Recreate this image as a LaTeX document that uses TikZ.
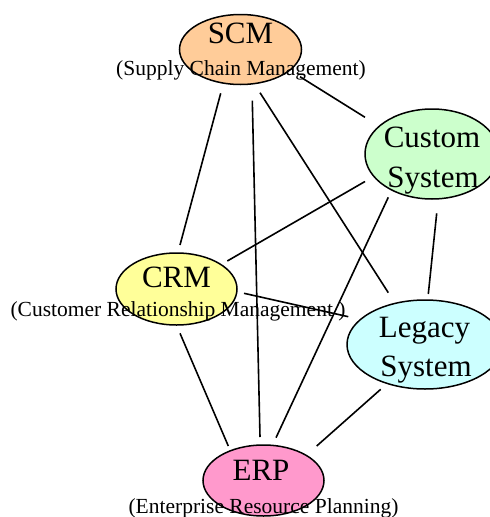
\documentclass[tikz,border=0pt]{standalone}
\usepackage{fontspec}
\setmainfont{Liberation Serif}
\usetikzlibrary{shapes.geometric,calc}
\definecolor{scmfill}{HTML}{FFCC99}
\definecolor{customfill}{HTML}{CCFFCC}
\definecolor{crmfill}{HTML}{FFFF99}
\definecolor{legacyfill}{HTML}{CCFFFF}
\definecolor{erpfill}{HTML}{FF99CC}
\tikzset{
  sysnode/.style={ellipse, draw=black, line width=1.5pt, inner sep=0pt},
  mainlbl/.style={anchor=base, inner sep=0pt, font=\fontsize{31}{40}\selectfont},
  sublbl/.style={anchor=base, inner sep=0pt, font=\fontsize{21.5}{26}\selectfont},
  edge/.style={draw=black, line width=1.6pt}
}
\begin{document}
\begin{tikzpicture}[x=1pt,y=-1pt]
\useasboundingbox (0,0) rectangle (490,517);
% ellipses
\node[sysnode, fill=scmfill, minimum width=122pt, minimum height=70pt] (scm) at (240.5,49.5) {};
\node[sysnode, fill=customfill, minimum width=134pt, minimum height=90pt] (custom) at (432,154) {};
\node[sysnode, fill=crmfill, minimum width=121pt, minimum height=72pt] (crm) at (176.5,289) {};
\node[sysnode, fill=legacyfill, minimum width=156pt, minimum height=89pt] (legacy) at (425,344.5) {};
\node[sysnode, fill=erpfill, minimum width=121pt, minimum height=71pt] (erp) at (263.5,480.5) {};
% connectors
\draw[edge] ($(scm)+(59.5,27.2)$) -- ($(custom)+(-67,-36.7)$);
\draw[edge] ($(scm)+(-19.8,43.8)$) -- ($(crm)+(3.5,-44)$);
\draw[edge] ($(scm)+(11.8,51.2)$) -- ($(erp)+(-3.5,-43.5)$);
\draw[edge] ($(scm)+(19.5,43.2)$) -- ($(legacy)+(-36.7,-51.8)$);
\draw[edge] ($(custom)+(-67,27.5)$) -- ($(crm)+(50.8,-28)$);
\draw[edge] ($(custom)+(-43.7,43.3)$) -- ($(erp)+(12.5,-42.8)$);
\draw[edge] ($(custom)+(4.7,59.3)$) -- ($(legacy)+(3.3,-50.5)$);
\draw[edge] ($(crm)+(67.5,4.3)$) -- ($(legacy)+(-76.7,-27.8)$);
\draw[edge] ($(crm)+(3.5,44.3)$) -- ($(erp)+(-35.2,-34.5)$);
\draw[edge] ($(legacy)+(-44.3,44.8)$) -- ($(erp)+(53.2,-34.5)$);
% labels
\node[mainlbl] (scmname) at (240.5,43.3) {SCM};
\node[sublbl] (scmsub) at (241,75) {(Supply Chain Management)};
\node[mainlbl] (customa) at (432,147) {Custom};
\node[mainlbl] (customb) at (433,187) {System};
\node[mainlbl] (crmname) at (176.5,287) {CRM};
\node[sublbl] (crmsub) at (178,316.7) {(Customer Relationship Management )};
\node[mainlbl] (legacya) at (424.5,337) {Legacy};
\node[mainlbl] (legacyb) at (426,376) {System};
\node[mainlbl] (erpname) at (261,480) {ERP};
\node[sublbl] (erpsub) at (263.5,513) {(Enterprise Resource Planning)};
\end{tikzpicture}
\end{document}
